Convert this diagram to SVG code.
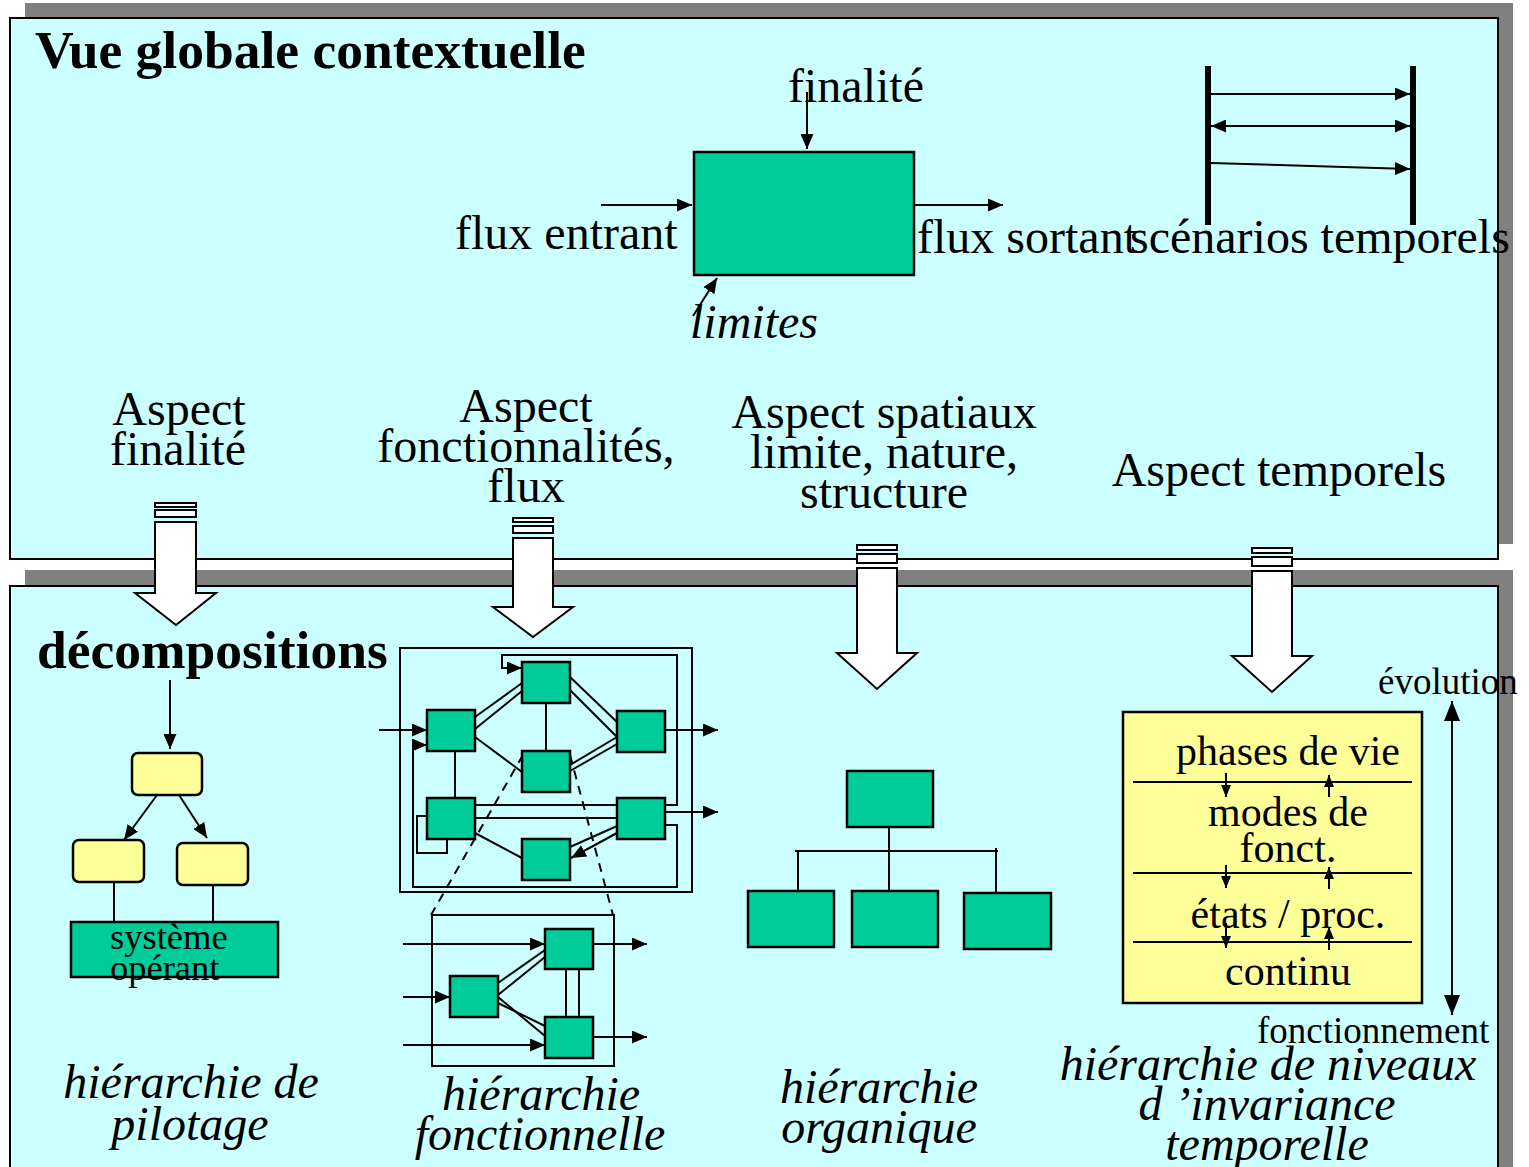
<svg xmlns="http://www.w3.org/2000/svg" width="1529" height="1167" viewBox="0 0 1529 1167">
<style>
.t{font-family:"Liberation Serif","Times New Roman",serif;fill:#000}
.big{font-size:48px}
.it{font-size:48px;font-style:italic}
.ttl{font-size:53.5px;font-weight:bold}
.box{fill:#00CC99;stroke:#000;stroke-width:2.5}
.yb{fill:#FFFF99;stroke:#000;stroke-width:2.5}
.ln{fill:none;stroke:#000;stroke-width:2}
.ar{fill:none;stroke:#000;stroke-width:2;marker-end:url(#ah)}
.ha{fill:#fff;stroke:#000;stroke-width:2}
.panel{fill:#CCFFFF;stroke:#000;stroke-width:2}
.shadow{fill:#808080}
</style>
<defs>
<marker id="ah" viewBox="0 0 15 13" refX="15" refY="6.5" markerWidth="15" markerHeight="13" markerUnits="userSpaceOnUse" orient="auto-start-reverse"><path d="M0,0 L15,6.5 L0,13 z" fill="#000"/></marker>
<marker id="ahs" viewBox="0 0 12 10" refX="12" refY="5" markerWidth="12" markerHeight="10" markerUnits="userSpaceOnUse" orient="auto"><path d="M0,0 L12,5 L0,10 z" fill="#000"/></marker>
<marker id="ahb" viewBox="0 0 20 16" refX="20" refY="8" markerWidth="20" markerHeight="16" markerUnits="userSpaceOnUse" orient="auto-start-reverse"><path d="M0,0 L20,8 L0,16 z" fill="#000"/></marker>
</defs>

<g id="panel-top">
<rect class="shadow" x="25" y="3" width="1488" height="541"/>
<rect class="panel" x="10" y="18" width="1488" height="541"/>
</g>
<g id="panel-bottom">
<rect class="shadow" x="25" y="570" width="1488" height="620"/>
<rect class="panel" x="10" y="586" width="1488" height="620"/>
</g>

<text class="t ttl" x="35" y="68">Vue globale contextuelle</text>
<text class="t ttl" x="37" y="668">décompositions</text>

<g id="system-box">
<rect class="box" x="694" y="152" width="220" height="123"/>
</g>
<text class="t big" x="788" y="102">finalité</text>
<text class="t big" x="455" y="249">flux entrant</text>
<text class="t big" x="917" y="253">flux sortant</text>
<text class="t big" x="1130" y="253">scénarios temporels</text>
<text class="t it" x="690" y="338">limites</text>

<g id="scenarios">
<line x1="1208" y1="66" x2="1208" y2="225" stroke="#000" stroke-width="6"/>
<line x1="1413" y1="66" x2="1413" y2="225" stroke="#000" stroke-width="6"/>
</g>

<g id="connectors">
<line class="ar" x1="807" y1="92" x2="807" y2="149"/>
<line class="ar" x1="601" y1="205" x2="692" y2="205"/>
<line class="ar" x1="914" y1="205" x2="1003" y2="205"/>
<line class="ar" x1="693" y1="316" x2="717" y2="278"/>
<line class="ar" x1="1211" y1="94" x2="1410" y2="94"/>
<line class="ar" x1="1211" y1="126" x2="1410" y2="126" style="marker-start:url(#ah)"/>
<line class="ar" x1="1211" y1="163" x2="1410" y2="169"/>

<!-- pilotage tree -->
<line class="ar" x1="170" y1="680" x2="170" y2="749"/>
<line class="ar" x1="157" y1="795" x2="124" y2="840"/>
<line class="ar" x1="179" y1="795" x2="207" y2="838"/>
<line class="ln" x1="114" y1="882" x2="114" y2="922"/>
<line class="ln" x1="213" y1="885" x2="213" y2="922"/>

<!-- functional network -->
<rect class="ln" x="400" y="648" width="292" height="244"/>
<path class="ar" d="M665,805 H677 V655 H502 V668 H522"/>
<path class="ar" d="M665,825 H677 V887 H413 V745 H427"/>
<path class="ln" d="M433,816 H417 V853 H447 V839"/>
<line class="ar" x1="379" y1="730" x2="427" y2="730"/>
<line class="ln" x1="475" y1="717" x2="522" y2="683"/>
<line class="ln" x1="475" y1="729" x2="522" y2="691"/>
<line class="ln" x1="475" y1="737" x2="522" y2="772"/>
<line class="ln" x1="546" y1="703" x2="546" y2="751"/>
<line class="ln" x1="570" y1="677" x2="617" y2="722"/>
<line class="ln" x1="570" y1="690" x2="617" y2="737"/>
<line class="ln" x1="570" y1="765" x2="617" y2="737"/>
<line class="ln" x1="570" y1="771" x2="617" y2="744"/>
<line class="ar" x1="665" y1="730" x2="718" y2="730"/>
<line class="ln" x1="455" y1="751" x2="455" y2="798"/>
<line class="ln" x1="475" y1="805" x2="617" y2="805"/>
<line class="ln" x1="475" y1="818" x2="617" y2="818"/>
<line class="ar" x1="665" y1="812" x2="718" y2="812"/>
<line class="ln" x1="475" y1="833" x2="522" y2="858"/>
<line class="ln" x1="617" y1="826" x2="570" y2="847"/>
<line class="ar" x1="617" y1="833" x2="571" y2="858"/>
<line class="ln" x1="523" y1="755" x2="431" y2="915" stroke-dasharray="9,7"/>
<line class="ln" x1="570" y1="755" x2="613" y2="915" stroke-dasharray="9,7"/>

<!-- sub network -->
<rect class="ln" x="432" y="915" width="182" height="151"/>
<line class="ar" x1="403" y1="944" x2="545" y2="944"/>
<line class="ar" x1="403" y1="997" x2="450" y2="997"/>
<line class="ar" x1="403" y1="1045" x2="545" y2="1045"/>
<line class="ar" x1="593" y1="944" x2="647" y2="944"/>
<line class="ar" x1="593" y1="1037" x2="647" y2="1037"/>
<line class="ln" x1="498" y1="983" x2="545" y2="950"/>
<line class="ln" x1="498" y1="995" x2="545" y2="957"/>
<line class="ln" x1="498" y1="1003" x2="545" y2="1026"/>
<line class="ln" x1="498" y1="997" x2="545" y2="1036"/>
<line class="ln" x1="566" y1="969" x2="566" y2="1017"/>
<line class="ln" x1="579" y1="969" x2="579" y2="1017"/>

<!-- organic tree -->
<line class="ln" x1="889" y1="827" x2="889" y2="892"/>
<line class="ln" x1="795" y1="851" x2="998" y2="851"/>
<line class="ln" x1="798" y1="851" x2="798" y2="895"/>
<line class="ln" x1="996" y1="848" x2="996" y2="893"/>

<!-- temporal -->
<line class="ln" x1="1452" y1="701" x2="1452" y2="1015" stroke-width="4" style="marker-start:url(#ahb);marker-end:url(#ahb)"/>
</g>

<g id="pilotage-nodes">
<rect class="yb" x="132" y="753" width="70" height="42" rx="6"/>
<rect class="yb" x="73" y="840" width="71" height="42" rx="6"/>
<rect class="yb" x="177" y="843" width="71" height="42" rx="6"/>
<rect class="box" x="71" y="922" width="207" height="55"/>
<text class="t" font-size="36.5" x="110" y="949">système</text>
<text class="t" font-size="36.5" x="110" y="980">opérant</text>
</g>

<g id="network-nodes">
<rect class="box" x="522" y="662" width="48" height="41"/>
<rect class="box" x="427" y="710" width="48" height="41"/>
<rect class="box" x="522" y="751" width="48" height="41"/>
<rect class="box" x="617" y="711" width="48" height="41"/>
<rect class="box" x="427" y="798" width="48" height="41"/>
<rect class="box" x="617" y="798" width="48" height="41"/>
<rect class="box" x="522" y="839" width="48" height="41"/>
</g>

<g id="subnetwork-nodes">
<rect class="box" x="545" y="929" width="48" height="40"/>
<rect class="box" x="450" y="976" width="48" height="41"/>
<rect class="box" x="545" y="1017" width="48" height="41"/>
</g>

<g id="organic-nodes">
<rect class="box" x="847" y="771" width="86" height="56"/>
<rect class="box" x="748" y="891" width="86" height="56"/>
<rect class="box" x="852" y="891" width="86" height="56"/>
<rect class="box" x="964" y="893" width="87" height="56"/>
</g>

<g id="temporal-levels">
<rect class="yb" x="1123" y="712" width="299" height="291"/>
<line class="ln" x1="1133" y1="782" x2="1412" y2="782"/>
<line class="ln" x1="1133" y1="873" x2="1412" y2="873"/>
<line class="ln" x1="1133" y1="942" x2="1412" y2="942"/>
<text class="t" font-size="42" x="1288" y="765" text-anchor="middle">phases de vie</text>
<text class="t" font-size="42" x="1288" y="826" text-anchor="middle">modes de</text>
<text class="t" font-size="42" x="1288" y="862" text-anchor="middle">fonct.</text>
<text class="t" font-size="42" x="1288" y="928" text-anchor="middle">états / proc.</text>
<text class="t" font-size="42" x="1288" y="985" text-anchor="middle">continu</text>
<line class="ln" x1="1226" y1="773" x2="1226" y2="797" style="marker-end:url(#ahs)"/>
<line class="ln" x1="1329" y1="797" x2="1329" y2="775" style="marker-end:url(#ahs)"/>
<line class="ln" x1="1226" y1="865" x2="1226" y2="888" style="marker-end:url(#ahs)"/>
<line class="ln" x1="1329" y1="889" x2="1329" y2="867" style="marker-end:url(#ahs)"/>
<line class="ln" x1="1226" y1="923" x2="1226" y2="948" style="marker-end:url(#ahs)"/>
<line class="ln" x1="1329" y1="950" x2="1329" y2="927" style="marker-end:url(#ahs)"/>
</g>
<text class="t" font-size="37" x="1378" y="694">évolution</text>
<text class="t" font-size="37" x="1257" y="1043">fonctionnement</text>

<g id="aspect-labels">
<text class="t big" x="179" y="425" text-anchor="middle">Aspect</text>
<text class="t big" x="178" y="465" text-anchor="middle">finalité</text>
<text class="t big" x="526" y="422" text-anchor="middle">Aspect</text>
<text class="t big" x="526" y="462" text-anchor="middle">fonctionnalités,</text>
<text class="t big" x="526" y="502" text-anchor="middle">flux</text>
<text class="t big" x="884" y="428" text-anchor="middle">Aspect spatiaux</text>
<text class="t big" x="884" y="468" text-anchor="middle">limite, nature,</text>
<text class="t big" x="884" y="508" text-anchor="middle">structure</text>
<text class="t big" x="1279" y="486" text-anchor="middle">Aspect temporels</text>
</g>

<g id="hollow-arrows">
<rect class="ha" x="155" y="503" width="41" height="4"/>
<rect class="ha" x="155" y="510" width="41" height="7"/>
<path class="ha" d="M155,522 H196 V593 H216 L176,625 L135,593 H155 Z"/>
<rect class="ha" x="513" y="518" width="40" height="4"/>
<rect class="ha" x="513" y="526" width="40" height="7"/>
<path class="ha" d="M513,538 H553 V607 H573 L533,637 L493,607 H513 Z"/>
<rect class="ha" x="857" y="545" width="40" height="5"/>
<rect class="ha" x="857" y="554" width="40" height="9"/>
<path class="ha" d="M857,568 H897 V653 H917 L877,689 L837,653 H857 Z"/>
<rect class="ha" x="1252" y="548" width="40" height="5"/>
<rect class="ha" x="1252" y="557" width="40" height="9"/>
<path class="ha" d="M1252,571 H1292 V656 H1312 L1272,692 L1232,656 H1252 Z"/>
</g>

<g id="bottom-labels">
<text class="t it" x="191" y="1098" text-anchor="middle">hiérarchie de</text>
<text class="t it" x="190" y="1140" text-anchor="middle">pilotage</text>
<text class="t it" x="541" y="1110" text-anchor="middle">hiérarchie</text>
<text class="t it" x="540" y="1150" text-anchor="middle">fonctionnelle</text>
<text class="t it" x="879" y="1103" text-anchor="middle">hiérarchie</text>
<text class="t it" x="879" y="1143" text-anchor="middle">organique</text>
<text class="t it" x="1268" y="1080" text-anchor="middle">hiérarchie de niveaux</text>
<text class="t it" x="1267" y="1120" text-anchor="middle">d ’invariance</text>
<text class="t it" x="1267" y="1160" text-anchor="middle">temporelle</text>
</g>
</svg>
